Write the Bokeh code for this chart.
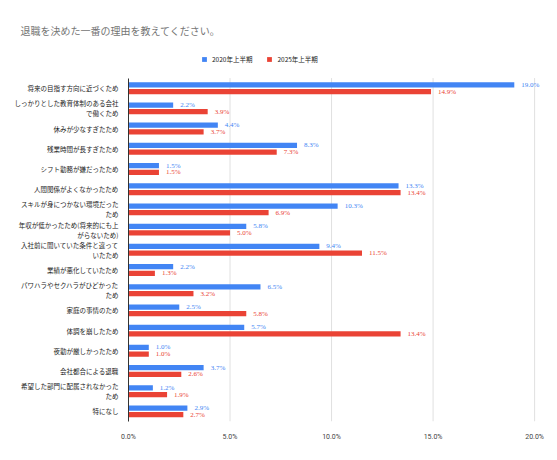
from bokeh.plotting import figure
from bokeh.models import ColumnDataSource, Legend, LegendItem, FixedTicker, LabelSet, Range1d
from bokeh.transform import dodge
from bokeh.embed import file_html
from bokeh.resources import INLINE

categories = [
    "将来の目指す方向に近づくため",
    "しっかりとした教育体制のある会社\nで働くため",
    "休みが少なすぎたため",
    "残業時間が長すぎたため",
    "シフト勤務が嫌だったため",
    "人間関係がよくなかったため",
    "スキルが身につかない環境だった\nため",
    "年収が低かったため(将来的にも上\nがらないため)",
    "入社前に聞いていた条件と違って\nいたため",
    "業績が悪化していたため",
    "パワハラやセクハラがひどかった\nため",
    "家庭の事情のため",
    "体調を崩したため",
    "夜勤が厳しかったため",
    "会社都合による退職",
    "希望した部門に配属されなかった\nため",
    "特になし",
]
series_2020 = [19.0, 2.2, 4.4, 8.3, 1.5, 13.3, 10.3, 5.8, 9.4, 2.2, 6.5, 2.5, 5.7, 1.0, 3.7, 1.2, 2.9]
series_2025 = [14.9, 3.9, 3.7, 7.3, 1.5, 13.4, 6.9, 5.0, 11.5, 1.3, 3.2, 5.8, 13.4, 1.0, 2.6, 1.9, 2.7]
series_names = ["2020年上半期", "2025年上半期"]
x_ticks = [0, 5, 10, 15, 20]

BLUE = "#4285F4"
RED = "#EA4335"
FONT = "Noto Sans CJK JP"
NUMFONT = "Roboto"

n = len(categories)
ypos = [n - 1 - i for i in range(n)]  # first category on top

src = ColumnDataSource(dict(
    y=ypos,
    a=series_2020,
    b=series_2025,
    la=[f"{v:.1f}%" for v in series_2020],
    lb=[f"{v:.1f}%" for v in series_2025],
))

# extra room above the categories holds the legend
p = figure(
    width=549, height=444,
    y_range=Range1d(-0.5, n - 0.5 + 1.86),
    x_range=Range1d(0, 20.34),
    output_backend="svg", toolbar_location=None,
    min_border_left=128, min_border_right=8, min_border_bottom=23, min_border_top=40,
    outline_line_color=None,
    title="退職を決めた一番の理由を教えてください。",
)
p.title.text_font_size = "10px"
p.title.text_font_style = "normal"
p.title.text_color = "#757575"
p.title.text_font = FONT
p.title.align = "left"
p.title.offset = -108
p.title.standoff = 6

# vertical grid lines limited to the category band
gx = [t for t in x_ticks if t > 0]
p.segment(x0=gx, x1=gx, y0=[-0.5] * len(gx), y1=[n - 0.5] * len(gx),
          line_color="#e0e0e0", line_width=1)

ra = p.hbar(y=dodge("y", 0.165), right="a", height=0.26, source=src,
            fill_color=BLUE, line_color=None)
rb = p.hbar(y=dodge("y", -0.165), right="b", height=0.26, source=src,
            fill_color=RED, line_color=None)

la = LabelSet(x="a", y=dodge("y", 0.165), text="la", source=src,
              x_offset=7, text_baseline="middle", text_font_size="7px",
              text_color=BLUE, text_font=NUMFONT)
lb = LabelSet(x="b", y=dodge("y", -0.165), text="lb", source=src,
              x_offset=7, text_baseline="middle", text_font_size="7px",
              text_color=RED, text_font=NUMFONT)
p.add_layout(la)
p.add_layout(lb)

p.xaxis.ticker = FixedTicker(ticks=x_ticks)
p.xaxis.major_label_overrides = {t: f"{t:.1f}%" for t in x_ticks}
p.xaxis.axis_line_color = None
p.xaxis.major_tick_line_color = None
p.xaxis.minor_tick_line_color = None
p.xaxis.major_label_text_font = NUMFONT
p.xaxis.major_label_text_font_size = "7px"
p.xaxis.major_label_text_color = "#444444"
p.xaxis.major_label_standoff = 5

p.yaxis.ticker = FixedTicker(ticks=ypos)
p.yaxis.major_label_overrides = {y: c for y, c in zip(ypos, categories)}
p.yaxis.bounds = (-0.5, n - 0.5)
p.yaxis.axis_line_color = "#333333"
p.yaxis.major_tick_line_color = None
p.yaxis.minor_tick_line_color = None
p.yaxis.major_label_text_font = FONT
p.yaxis.major_label_text_font_size = "6.5px"
p.yaxis.major_label_text_color = "#222222"
p.yaxis.major_label_standoff = 4
p.yaxis.major_label_text_line_height = 1.0

p.xgrid.grid_line_color = None
p.ygrid.grid_line_color = None

legend = Legend(
    items=[LegendItem(label=series_names[0], renderers=[ra]),
           LegendItem(label=series_names[1], renderers=[rb])],
    orientation="horizontal", location=(73, 357),
    glyph_width=6, glyph_height=6, label_text_font=FONT, label_text_font_size="6.5px",
    label_text_color="#222222", spacing=14, padding=4, margin=0, label_standoff=5,
    border_line_color=None, background_fill_alpha=0,
)
p.add_layout(legend)

open("out.html", "w").write(file_html(p, INLINE))
